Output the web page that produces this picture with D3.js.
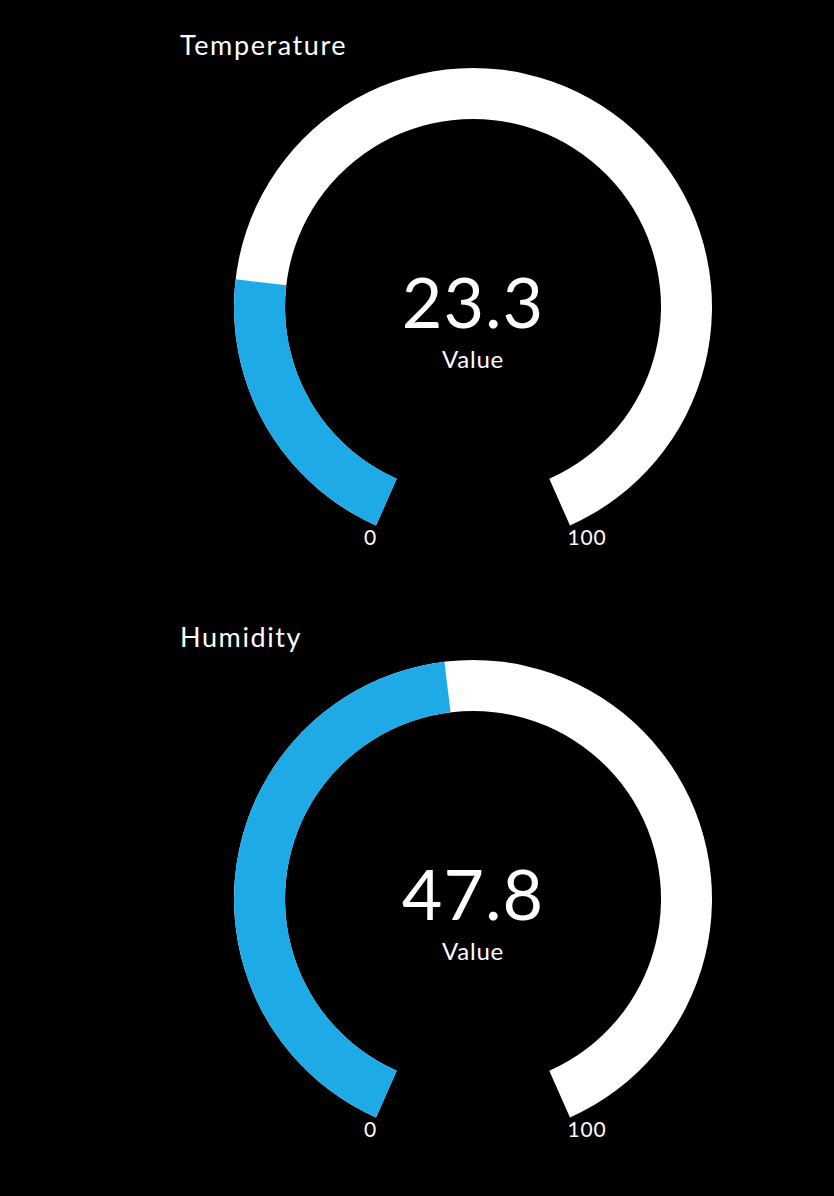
<!DOCTYPE html>
<html>
<head>
<meta charset="utf-8">
<script src="https://cdn.jsdelivr.net/npm/d3@7"></script>
<style>
  body { margin: 0; background: #000; }
  text { font-family: Lato, "Noto Sans", sans-serif; fill: #fff; }
</style>
</head>
<body>
<div class="chart"></div>
<script>
// gauge data
var titles = ["Temperature", "Humidity"];
var values = [23.3, 47.8];
var minLabels = ["0", "0"];
var maxLabels = ["100", "100"];
var domainMin = 0, domainMax = 100;

var svg = d3.select(".chart").append("svg")
  .attr("width", 834)
  .attr("height", 1196);

// angle scale: value -> radians from 12 o'clock
var sweep = 0.867 * Math.PI;
var angle = d3.scaleLinear().domain([domainMin, domainMax]).range([-sweep, sweep]);

var outerR = 239, innerR = 188;
var arc = d3.arc().innerRadius(innerR).outerRadius(outerR);

titles.forEach(function(title, i) {
  var cx = 473, cy = 307 + i * 592;
  var g = svg.append("g").attr("transform", `translate(${cx}, ${cy})`);

  // white background track
  g.append("path")
    .attr("d", arc({startAngle: angle(domainMin), endAngle: angle(domainMax)}))
    .attr("fill", "#fff");

  // blue value arc
  g.append("path")
    .attr("d", arc({startAngle: angle(domainMin), endAngle: angle(values[i])}))
    .attr("fill", "#1eaae7");

  svg.append("text")
    .attr("x", 180).attr("y", cy - 252)
    .attr("font-size", 27)
    .attr("letter-spacing", 1.6)
    .text(title);

  g.append("text")
    .attr("text-anchor", "middle")
    .attr("y", 21)
    .attr("font-size", 70)
    .attr("letter-spacing", 1)
    .text(values[i]);

  g.append("text")
    .attr("text-anchor", "middle")
    .attr("y", 61)
    .attr("font-size", 24)
    .attr("letter-spacing", 0.8)
    .text("Value");

  // min / max labels under the arc ends
  g.append("text")
    .attr("text-anchor", "middle")
    .attr("x", -103).attr("y", 238)
    .attr("font-size", 21)
    .text(minLabels[i]);

  g.append("text")
    .attr("text-anchor", "middle")
    .attr("x", 114).attr("y", 238)
    .attr("font-size", 21)
    .attr("letter-spacing", 0.8)
    .text(maxLabels[i]);
});
</script>
</body>
</html>
